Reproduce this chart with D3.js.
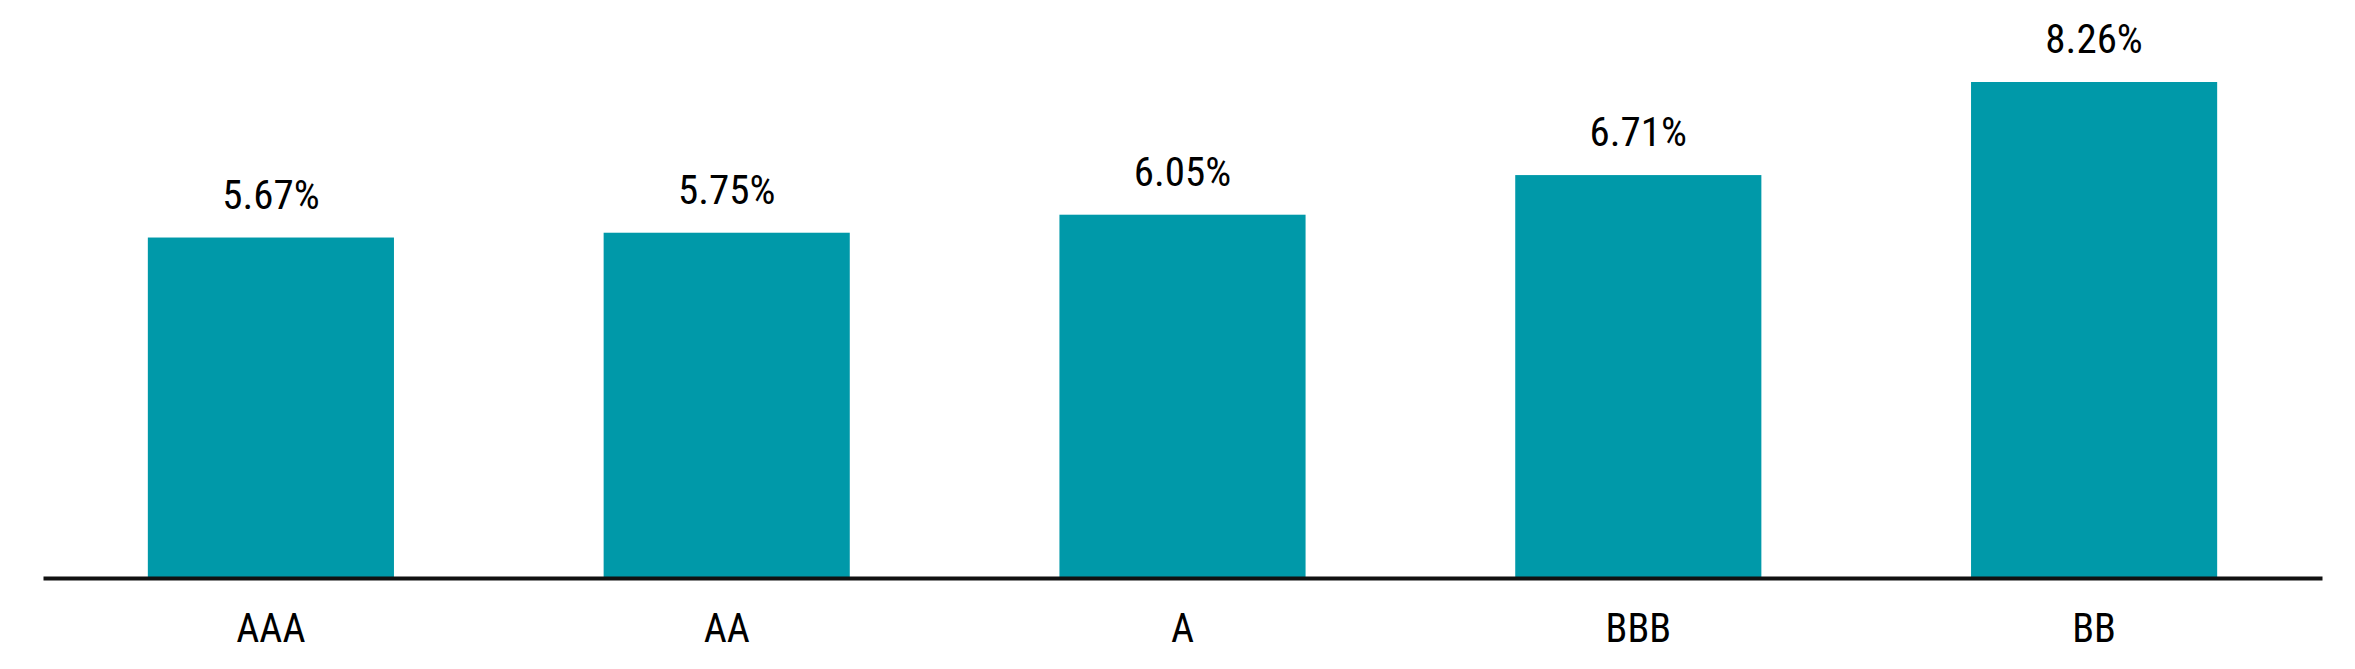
<!DOCTYPE html>
<html>
<head>
<meta charset="utf-8">
<script src="https://cdn.jsdelivr.net/npm/d3@7"></script>
<style>
  html, body { margin: 0; padding: 0; background: #fff; }
  svg text { font-family: "Liberation Sans Narrow", "Roboto Condensed", "DejaVu Sans Condensed", sans-serif; }
</style>
</head>
<body>
<div id="chart-area"></div>
<script>
// ratings and their yields (%)
const ratings = ["AAA", "AA", "A", "BBB", "BB"]
const yields = [5.67, 5.75, 6.05, 6.71, 8.26]

const width = 2355
const height = 669
const left = 43, right = 2322
const baseY = 578, topY = 82

const svg = d3.select("#chart-area").append("svg")
    .attr("width", width)
    .attr("height", height)

const x = d3.scaleBand()
    .domain(ratings)
    .range([left, right])
    .paddingInner(0.46)
    .paddingOuter(0.23)

const y = d3.scaleLinear()
    .domain([0, d3.max(yields)])
    .range([baseY, topY])

const data = ratings.map((r, i) => ({rating: r, value: yields[i]}))

// bars
svg.selectAll("rect.bar").data(data)
    .enter().append("rect")
    .attr("class", "bar")
    .attr("x", d => x(d.rating))
    .attr("y", d => y(d.value))
    .attr("width", x.bandwidth())
    .attr("height", d => y(0) - y(d.value))
    .attr("fill", "#0099a9")

// value labels
svg.selectAll("text.val").data(data)
    .enter().append("text")
    .attr("class", "val")
    .attr("x", d => x(d.rating) + x.bandwidth() / 2)
    .attr("y", d => y(d.value) - 29)
    .attr("text-anchor", "middle")
    .attr("font-size", "41px")
    .attr("fill", "#000")
    .text(d => d.value.toFixed(2) + "%")

// x axis
const xAxisCall = d3.axisBottom(x).tickSize(0).tickSizeOuter(0)

const xAxis = svg.append("g")
    .attr("class", "x axis")
    .attr("transform", `translate(0, ${baseY})`)
    .call(xAxisCall)

xAxis.select(".domain")
    .attr("stroke", "#111")
    .attr("stroke-width", 4)

xAxis.selectAll("text")
    .attr("y", 64)
    .attr("dy", null)
    .attr("font-size", "40px")
    .attr("font-family", null)
    .attr("fill", "#000")
</script>
</body>
</html>
